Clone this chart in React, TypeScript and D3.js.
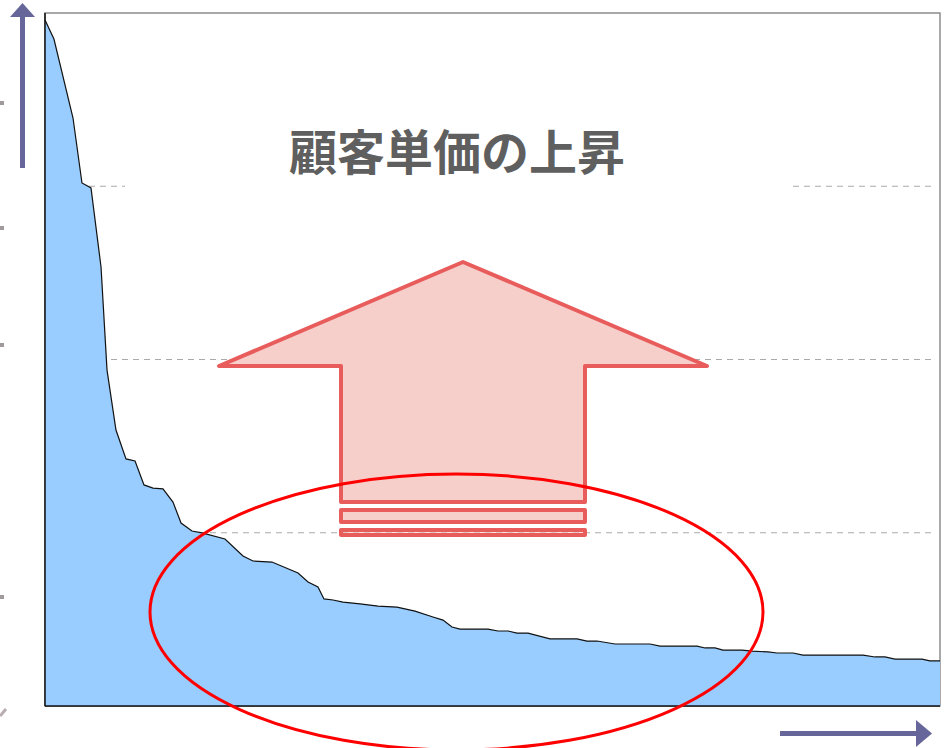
import React from "react";
import * as d3 from "d3";

// Customer rank (0 = highest spending) and unit price (arbitrary units)
const ranks = [0, 1.0, 3.13, 4.13, 5.14, 6.26, 6.93, 7.93, 9.05, 10.06, 11.06, 12.07, 13.18, 14.3, 15.2, 16.42, 17.54, 20.11, 22.12, 23.24, 25.36, 28.27, 29.39, 30.5, 31.17, 32.18, 33.3, 35.2, 37.21, 39.33, 41.34, 43.35, 44.47, 45.47, 46.37, 49.5, 50.61, 51.73, 52.74, 53.97, 56.42, 59.44, 60.56, 61.68, 63.69, 67.6, 68.72, 72.85, 73.74, 74.86, 75.75, 77.88, 79.0, 80.78, 81.79, 83.58, 84.69, 91.4, 92.74, 93.85, 94.97, 97.99, 98.88, 100];
const values = [396.0, 385.0, 339.4, 301.9, 299.0, 253.4, 193.9, 159.3, 142.6, 141.4, 127.6, 125.8, 125.3, 117.7, 105.6, 101.0, 99.9, 96.4, 86.6, 83.7, 83.1, 76.8, 71.6, 68.7, 61.8, 61.2, 60.0, 58.9, 57.7, 57.1, 54.8, 51.4, 49.6, 45.6, 44.4, 44.4, 43.3, 43.3, 42.1, 42.1, 38.7, 38.7, 37.5, 37.5, 35.8, 35.8, 34.6, 34.6, 33.5, 33.5, 32.3, 32.3, 31.7, 31.2, 30.6, 30.6, 29.4, 29.4, 28.3, 28.3, 27.1, 27.1, 26.0, 26.0];
const gridValues = [100, 200, 300];
const title = "顧客単価の上昇";

const W = 946;
const H = 748;
const PL = 45, PR = 940, PT = 13, PB = 706;

export default function App() {
  const x = d3.scaleLinear().domain([0, 100]).range([PL, PR]);
  const y = d3.scaleLinear().domain([0, 400]).range([PB, PT]);
  const pts = ranks.map((r, i) => [r, values[i]] as [number, number]);

  const area = d3.area<[number, number]>()
    .x(d => x(d[0]))
    .y0(y(0))
    .y1(d => y(d[1]))
    .curve(d3.curveLinear);
  const line = d3.line<[number, number]>()
    .x(d => x(d[0]))
    .y(d => y(d[1]));

  const axisColor = "#66669a";
  const arrowStroke = "#e85c5c";
  const arrowFill = "#f6ceca";

  // big arrow geometry
  const tipX = 463, tipY = 262, headY = 366, headL = 219, headR = 707;
  const shL = 341, shR = 585, shB = 502;
  const arrowPath = `M${tipX},${tipY} L${headR},${headY} L${shR},${headY} L${shR},${shB} L${shL},${shB} L${shL},${headY} L${headL},${headY} Z`;

  return (
    <div style={{ position: "absolute", left: 0, top: 0, width: W, height: H, background: "#fff" }}>
      <svg width={W} height={H} style={{ display: "block" }}>
        <rect x={0} y={0} width={W} height={H} fill="#fff" />
        {/* gridlines */}
        {gridValues.map(g => (
          <line key={g} x1={PL} x2={PR - 4} y1={y(g)} y2={y(g)} stroke="#aaaaaa" strokeWidth={1} strokeDasharray="6,5" />
        ))}
        {/* white box behind title hides part of the top gridline */}
        <rect x={125} y={176} width={665} height={20} fill="#fff" />
        {/* frame */}
        <rect x={PL} y={PT} width={PR - PL} height={PB - PT} fill="none" stroke="#8c8c8c" strokeWidth={1.5} />
        {/* area */}
        <path d={area(pts) || ""} fill="#99ccff" />
        <path d={line(pts) || ""} fill="none" stroke="#111" strokeWidth={1.2} />
        <line x1={PL} x2={PL} y1={PT} y2={PB} stroke="#111" strokeWidth={1.5} />
        <line x1={PL} x2={PR} y1={PB} y2={PB} stroke="#111" strokeWidth={1.5} />
        {/* title */}
        <text x={457} y={149} textAnchor="middle" dominantBaseline="central"
          fontFamily="'Noto Sans CJK JP', 'Noto Sans', sans-serif" fontWeight={700} fontSize={48} fill="#5f5f5f">
          {title}
        </text>
        {/* upward arrow */}
        <path d={arrowPath} fill={arrowFill} stroke={arrowStroke} strokeWidth={4} strokeLinejoin="round" />
        <rect x={shL} y={510} width={shR - shL} height={12} fill={arrowFill} stroke={arrowStroke} strokeWidth={4} strokeLinejoin="round" />
        <rect x={shL} y={530} width={shR - shL} height={5} fill={arrowFill} fillOpacity={0.6} stroke={arrowStroke} strokeWidth={4} strokeLinejoin="round" />
        {/* ellipse */}
        <ellipse cx={456.5} cy={612} rx={306.5} ry={138} fill="none" stroke="#ff0000" strokeWidth={3} />
        {/* axis arrows */}
        <rect x={20} y={16} width={5} height={152} fill={axisColor} />
        <path d="M22.5,3 L35,17 L10,17 Z" fill={axisColor} />
        <rect x={780} y={731} width={138} height={5} fill={axisColor} />
        <path d="M932,733.5 L916,720 L916,747 Z" fill={axisColor} />
        {/* stray marks at the left edge */}
        {[103, 228, 345, 597].map(m => (
          <rect key={m} x={0} y={m - 2} width={4} height={4} fill="#a09a9c" />
        ))}
        <path d="M0,716 L6,709" stroke="#b8aeb0" strokeWidth={3} />
      </svg>
    </div>
  );
}
